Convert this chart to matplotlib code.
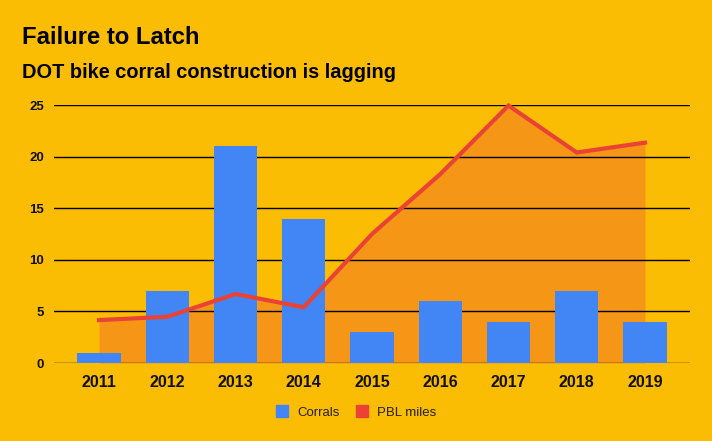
import matplotlib
matplotlib.use("Agg")
import matplotlib.pyplot as plt
import numpy as np
from matplotlib.patches import Patch

years = ["2011", "2012", "2013", "2014", "2015", "2016", "2017", "2018", "2019"]
corrals = [1, 7, 21, 14, 3, 6, 4, 7, 4]
pbl_miles = [4.16, 4.48, 6.68, 5.4, 12.5, 18.3, 24.95, 20.4, 21.35]
yticks = [0, 5, 10, 15, 20, 25]

BG = "#FBBC04"
AREA = "#F59617"
BLUE = "#4285F4"
RED = "#EA4335"

plt.rcParams['font.family'] = ['Liberation Sans', 'DejaVu Sans']

fig = plt.figure(figsize=(7.12, 4.41), dpi=100, facecolor=BG)
ax = fig.add_axes([54/712, 78/441, 636/712, 258/441])
ax.set_facecolor(BG)

x = np.arange(len(years))
ax.fill_between(x, 0, pbl_miles, color=AREA, lw=0, zorder=1)
ax.bar(x, corrals, width=0.635, color=BLUE, zorder=3, label="Corrals")
ax.plot(x, pbl_miles, color=RED, lw=3, zorder=4, clip_on=False, solid_joinstyle='miter')

ax.set_xlim(-0.66, 8.66)
ax.set_ylim(0, 25)
ax.set_yticks(yticks)
ax.set_yticklabels([str(v) for v in yticks], fontsize=9.5, fontweight='bold', color='#111111')
ax.set_xticks(x)
ax.set_xticklabels(years, fontsize=11.5, fontweight='bold', color='#111111')
ax.tick_params(axis='both', length=0)
ax.tick_params(axis='y', pad=7)
ax.tick_params(axis='x', pad=8.5)
for v in yticks:
    ax.axhline(v, color='black', lw=1, zorder=2)
for s in ax.spines.values():
    s.set_visible(False)

fig.text(22/712, 1 - 44.3/441, "Failure to Latch", fontsize=17.2, fontweight='bold', va='baseline', ha='left', color='black')
fig.text(22/712, 1 - 78.3/441, "DOT bike corral construction is lagging", fontsize=14.4, fontweight='bold', va='baseline', ha='left', color='black')

handles = [Patch(color=BLUE, label="Corrals"), Patch(color=RED, label="PBL miles")]
fig.legend(handles=handles, loc='center', bbox_to_anchor=(0.5, 1 - 412/441), ncol=2,
           frameon=False, fontsize=9.5, handlelength=0.91, handleheight=0.91, handletextpad=0.68,
           columnspacing=1.26, labelcolor='#222222')

fig.savefig("out.png", dpi=100, facecolor=BG)
